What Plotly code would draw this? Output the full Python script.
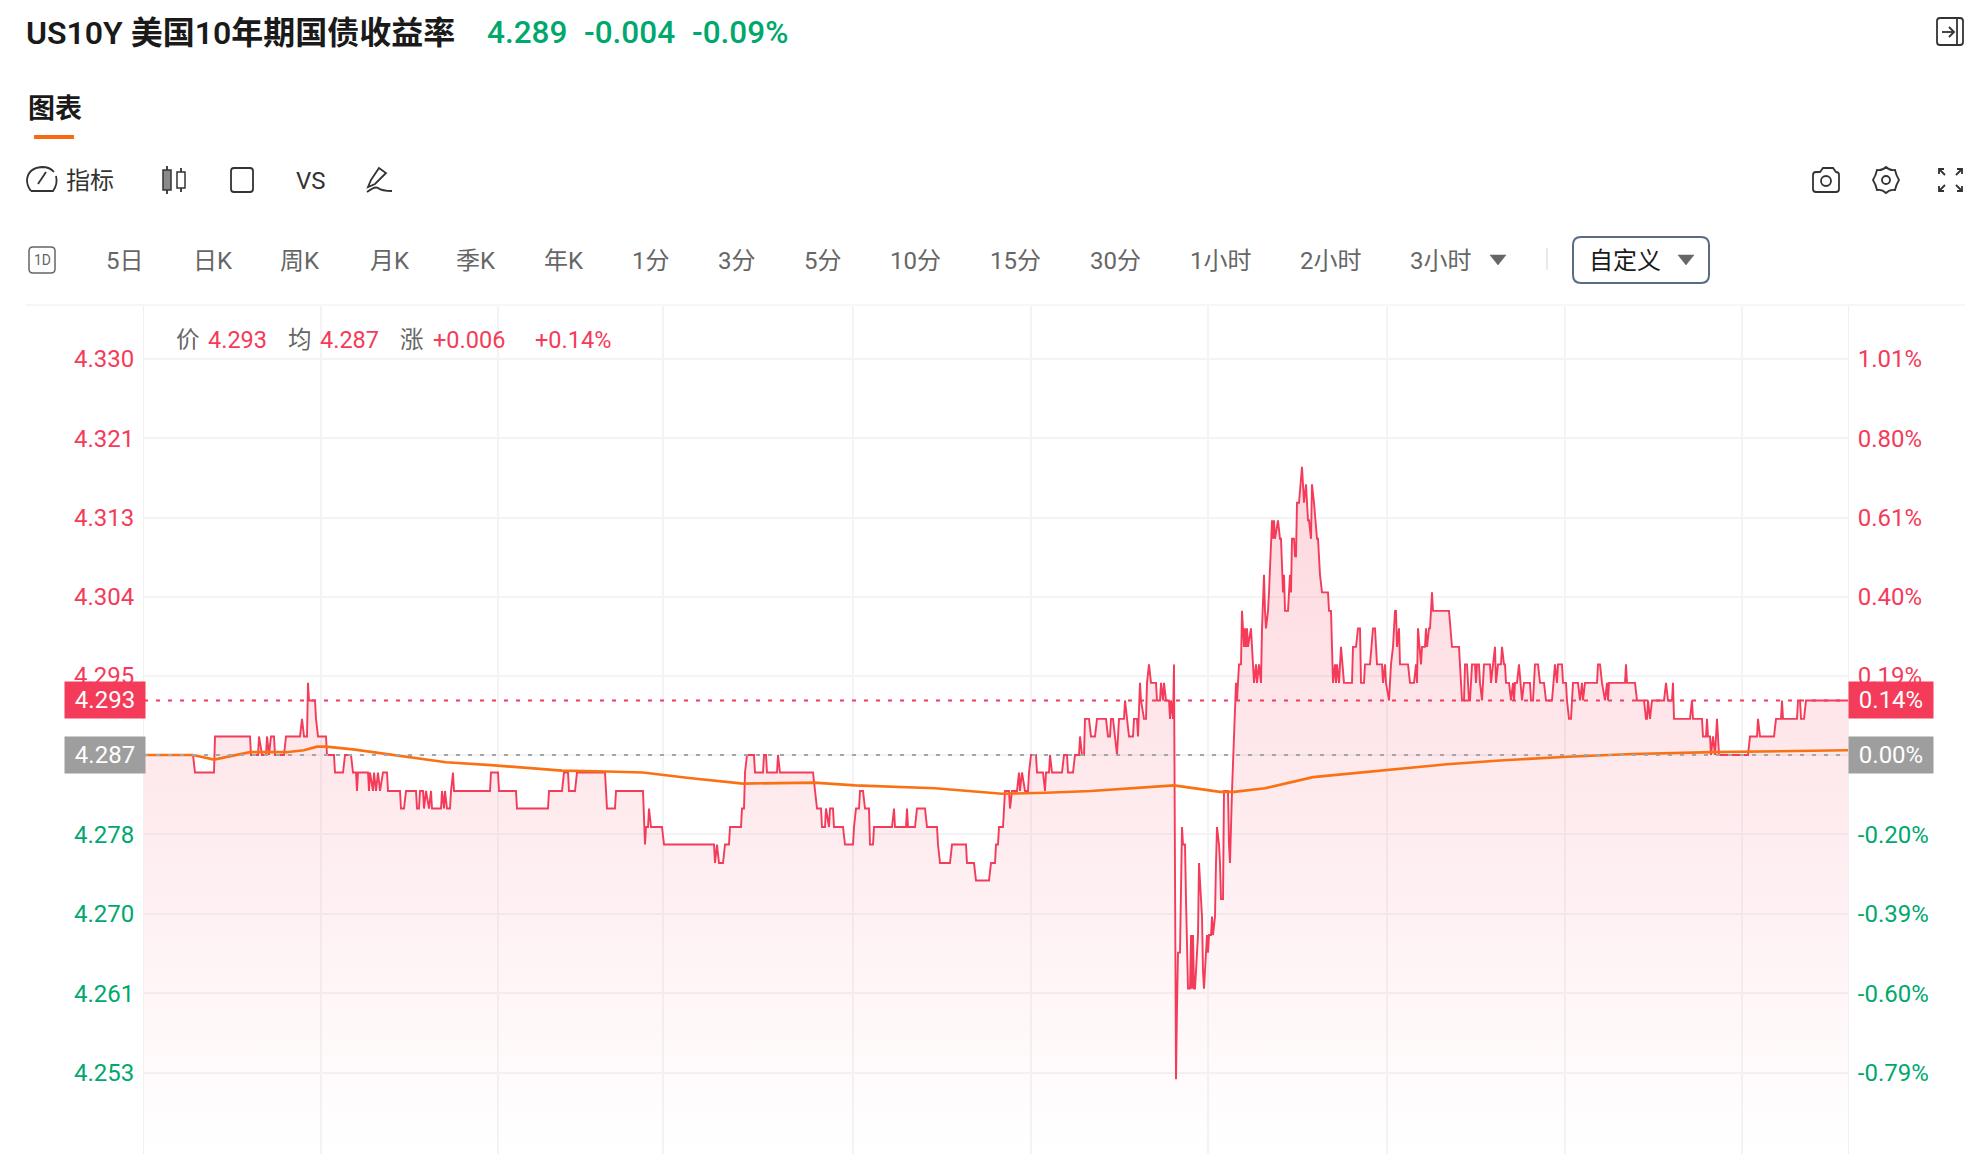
import plotly.graph_objects as go

# bar index along the session
bar_index = [
    0, 49, 51, 70, 71, 106, 107, 114, 115, 118, 122, 123,
    125, 127, 130, 131, 140, 142, 156, 158, 160, 163, 164, 165,
    171, 172, 174, 182, 183, 190, 191, 199, 201, 207, 209, 212,
    213, 214, 224, 225, 226, 229, 230, 232, 234, 236, 239, 243,
    244, 256, 257, 260, 262, 272, 273, 275, 276, 279, 280, 282,
    285, 287, 288, 297, 298, 300, 301, 303, 306, 307, 309, 310,
    346, 347, 354, 355, 372, 373, 404, 405, 418, 420, 424, 425,
    431, 433, 461, 463, 471, 472, 499, 501, 502, 504, 505, 507,
    518, 520, 570, 571, 573, 575, 579, 581, 585, 586, 597, 598,
    600, 601, 603, 610, 611, 619, 620, 622, 623, 633, 634, 636,
    669, 671, 673, 677, 678, 681, 682, 685, 686, 689, 690, 699,
    701, 709, 710, 712, 715, 716, 719, 721, 725, 726, 729, 730,
    748, 750, 751, 762, 763, 764, 771, 773, 781, 783, 793, 794,
    796, 806, 808, 822, 823, 830, 832, 845, 847, 851, 852, 854,
    855, 859, 860, 861, 865, 866, 868, 873, 875, 876, 878, 881,
    884, 885, 887, 892, 893, 899, 901, 902, 905, 906, 908, 918,
    920, 923, 924, 929, 931, 935, 936, 938, 940, 941, 945, 947,
    951, 953, 962, 964, 966, 967, 969, 971, 973, 975, 980, 981,
    983, 985, 989, 990, 993, 994, 996, 997, 1000, 1002, 1003, 1005,
    1007, 1012, 1013, 1016, 1017, 1019, 1020, 1022, 1025, 1026, 1027, 1029,
    1030, 1032, 1033, 1034, 1036, 1038, 1039, 1041, 1042, 1044, 1046, 1047,
    1048, 1049, 1050, 1051, 1052, 1054, 1055, 1057, 1058, 1059, 1060, 1062,
    1063, 1064, 1065, 1067, 1068, 1069, 1071, 1072, 1073, 1075, 1076, 1077,
    1079, 1080, 1084, 1085, 1086, 1088, 1089, 1090, 1092, 1093, 1095, 1097,
    1098, 1100, 1101, 1102, 1103, 1104, 1107, 1109, 1110, 1112, 1113, 1115,
    1117, 1118, 1120, 1121, 1122, 1124, 1125, 1128, 1129, 1130, 1131, 1134,
    1136, 1137, 1138, 1139, 1140, 1141, 1144, 1145, 1146, 1147, 1148, 1150,
    1151, 1152, 1153, 1155, 1158, 1160, 1162, 1164, 1165, 1167, 1168, 1170,
    1173, 1174, 1176, 1178, 1184, 1185, 1187, 1188, 1189, 1191, 1192, 1193,
    1195, 1197, 1200, 1208, 1209, 1212, 1214, 1216, 1217, 1220, 1221, 1226,
    1229, 1231, 1233, 1238, 1239, 1241, 1242, 1245, 1247, 1249, 1251, 1252,
    1253, 1255, 1256, 1264, 1266, 1270, 1272, 1273, 1274, 1277, 1278, 1281,
    1282, 1283, 1285, 1286, 1288, 1289, 1305, 1308, 1315, 1317, 1318, 1320,
    1321, 1323, 1325, 1326, 1328, 1331, 1332, 1333, 1335, 1336, 1338, 1340,
    1346, 1347, 1349, 1351, 1352, 1354, 1357, 1358, 1360, 1361, 1362, 1365,
    1367, 1369, 1370, 1371, 1373, 1375, 1378, 1380, 1386, 1387, 1389, 1391,
    1394, 1396, 1400, 1402, 1408, 1411, 1413, 1414, 1418, 1419, 1422, 1423,
    1425, 1427, 1429, 1434, 1436, 1438, 1439, 1441, 1453, 1454, 1456, 1458,
    1461, 1463, 1464, 1465, 1481, 1482, 1483, 1491, 1493, 1500, 1502, 1503,
    1504, 1506, 1508, 1520, 1522, 1524, 1528, 1529, 1530, 1546, 1548, 1549,
    1558, 1559, 1562, 1563, 1564, 1566, 1567, 1569, 1571, 1573, 1574, 1575,
    1604, 1606, 1613, 1614, 1616, 1630, 1632, 1637, 1638, 1639, 1653, 1654,
    1656, 1657, 1660, 1662, 1704,
]
price = [
    4.2868, 4.2868, 4.2849, 4.2849, 4.2888, 4.2888, 4.2868, 4.2868, 4.2888, 4.2868, 4.2868, 4.2888,
    4.2868, 4.2888, 4.2888, 4.2868, 4.2868, 4.2888, 4.2888, 4.2907, 4.2888, 4.2888, 4.2946, 4.2927,
    4.2927, 4.2907, 4.2888, 4.2888, 4.2868, 4.2868, 4.2849, 4.2849, 4.2868, 4.2868, 4.2849, 4.2849,
    4.2829, 4.2849, 4.2849, 4.2829, 4.2849, 4.2829, 4.2849, 4.2829, 4.2849, 4.2829, 4.2849, 4.2849,
    4.2829, 4.2829, 4.2810, 4.2810, 4.2829, 4.2829, 4.2810, 4.2810, 4.2829, 4.2829, 4.2810, 4.2829,
    4.2810, 4.2829, 4.2810, 4.2810, 4.2829, 4.2810, 4.2829, 4.2810, 4.2810, 4.2829, 4.2849, 4.2829,
    4.2829, 4.2849, 4.2849, 4.2829, 4.2829, 4.2810, 4.2810, 4.2829, 4.2829, 4.2849, 4.2849, 4.2829,
    4.2829, 4.2849, 4.2849, 4.2810, 4.2810, 4.2829, 4.2829, 4.2771, 4.2790, 4.2790, 4.2810, 4.2790,
    4.2790, 4.2771, 4.2771, 4.2751, 4.2771, 4.2751, 4.2751, 4.2771, 4.2771, 4.2790, 4.2790, 4.2810,
    4.2810, 4.2849, 4.2868, 4.2868, 4.2849, 4.2849, 4.2868, 4.2868, 4.2849, 4.2849, 4.2868, 4.2849,
    4.2849, 4.2829, 4.2810, 4.2810, 4.2790, 4.2790, 4.2810, 4.2790, 4.2810, 4.2810, 4.2790, 4.2790,
    4.2771, 4.2771, 4.2790, 4.2810, 4.2810, 4.2829, 4.2829, 4.2810, 4.2810, 4.2771, 4.2771, 4.2790,
    4.2790, 4.2810, 4.2790, 4.2790, 4.2810, 4.2790, 4.2790, 4.2810, 4.2810, 4.2790, 4.2790, 4.2771,
    4.2751, 4.2751, 4.2771, 4.2771, 4.2751, 4.2751, 4.2732, 4.2732, 4.2751, 4.2751, 4.2771, 4.2771,
    4.2790, 4.2790, 4.2810, 4.2829, 4.2829, 4.2810, 4.2829, 4.2829, 4.2849, 4.2829, 4.2849, 4.2829,
    4.2829, 4.2849, 4.2868, 4.2868, 4.2849, 4.2849, 4.2829, 4.2849, 4.2849, 4.2868, 4.2849, 4.2849,
    4.2868, 4.2868, 4.2849, 4.2849, 4.2868, 4.2868, 4.2888, 4.2868, 4.2868, 4.2907, 4.2907, 4.2888,
    4.2888, 4.2907, 4.2907, 4.2888, 4.2888, 4.2907, 4.2907, 4.2888, 4.2868, 4.2907, 4.2907, 4.2927,
    4.2907, 4.2888, 4.2888, 4.2907, 4.2907, 4.2888, 4.2946, 4.2927, 4.2907, 4.2907, 4.2946, 4.2966,
    4.2946, 4.2946, 4.2927, 4.2927, 4.2946, 4.2927, 4.2946, 4.2927, 4.2927, 4.2907, 4.2927, 4.2907,
    4.2966, 4.2517, 4.2595, 4.2654, 4.2654, 4.2790, 4.2771, 4.2771, 4.2712, 4.2615, 4.2615, 4.2673,
    4.2615, 4.2673, 4.2615, 4.2615, 4.2634, 4.2673, 4.2751, 4.2712, 4.2693, 4.2634, 4.2615, 4.2654,
    4.2673, 4.2654, 4.2673, 4.2673, 4.2693, 4.2673, 4.2693, 4.2751, 4.2790, 4.2771, 4.2751, 4.2712,
    4.2712, 4.2829, 4.2829, 4.2771, 4.2751, 4.2829, 4.2868, 4.2888, 4.2946, 4.2927, 4.2966, 4.2966,
    4.3024, 4.2985, 4.3005, 4.2985, 4.3005, 4.2985, 4.3005, 4.2966, 4.2946, 4.2966, 4.2946, 4.2966,
    4.2946, 4.3005, 4.3063, 4.3024, 4.3005, 4.3024, 4.3044, 4.3122, 4.3102, 4.3122, 4.3102, 4.3122,
    4.3102, 4.3102, 4.3063, 4.3044, 4.3063, 4.3024, 4.3024, 4.3044, 4.3063, 4.3044, 4.3102, 4.3102,
    4.3083, 4.3083, 4.3141, 4.3141, 4.3180, 4.3141, 4.3161, 4.3122, 4.3122, 4.3102, 4.3161, 4.3141,
    4.3102, 4.3102, 4.3063, 4.3044, 4.3044, 4.3024, 4.3024, 4.2985, 4.2946, 4.2966, 4.2946, 4.2966,
    4.2946, 4.2985, 4.2946, 4.2946, 4.2985, 4.2985, 4.3005, 4.3005, 4.2946, 4.2946, 4.2966, 4.2966,
    4.3005, 4.3005, 4.2966, 4.2966, 4.2946, 4.2966, 4.2946, 4.2927, 4.2966, 4.2985, 4.3024, 4.3024,
    4.2985, 4.3005, 4.2966, 4.2966, 4.2946, 4.2946, 4.2966, 4.2946, 4.3005, 4.2966, 4.2985, 4.2985,
    4.3005, 4.2985, 4.3005, 4.3005, 4.3044, 4.3024, 4.3024, 4.2985, 4.2985, 4.2946, 4.2927, 4.2927,
    4.2966, 4.2966, 4.2927, 4.2927, 4.2966, 4.2966, 4.2946, 4.2966, 4.2966, 4.2946, 4.2927, 4.2966,
    4.2966, 4.2946, 4.2966, 4.2985, 4.2946, 4.2966, 4.2966, 4.2985, 4.2966, 4.2966, 4.2946, 4.2946,
    4.2927, 4.2946, 4.2927, 4.2946, 4.2946, 4.2966, 4.2927, 4.2946, 4.2946, 4.2927, 4.2927, 4.2966,
    4.2966, 4.2946, 4.2946, 4.2927, 4.2927, 4.2966, 4.2946, 4.2966, 4.2966, 4.2946, 4.2946, 4.2927,
    4.2907, 4.2907, 4.2946, 4.2946, 4.2927, 4.2946, 4.2927, 4.2946, 4.2946, 4.2966, 4.2966, 4.2946,
    4.2927, 4.2946, 4.2927, 4.2946, 4.2946, 4.2966, 4.2946, 4.2946, 4.2927, 4.2927, 4.2907, 4.2907,
    4.2927, 4.2907, 4.2927, 4.2927, 4.2946, 4.2927, 4.2927, 4.2946, 4.2907, 4.2907, 4.2927, 4.2907,
    4.2907, 4.2888, 4.2888, 4.2907, 4.2888, 4.2888, 4.2868, 4.2888, 4.2868, 4.2907, 4.2888, 4.2868,
    4.2868, 4.2888, 4.2888, 4.2907, 4.2888, 4.2888, 4.2907, 4.2907, 4.2927, 4.2907, 4.2907, 4.2927,
    4.2927, 4.2907, 4.2907, 4.2927, 4.2927,
]

avg_index = [0, 49, 70, 106, 142, 160, 173, 182, 209, 258, 302, 347, 383, 418, 463, 499, 545, 586, 599,
             670, 711, 791, 858, 902, 947, 1030, 1076, 1090, 1121, 1169, 1189, 1243, 1303, 1356, 1423,
             1489, 1569, 1704]
avg_price = [4.2868, 4.2868, 4.2863, 4.2871, 4.2871, 4.2873, 4.2877, 4.2877, 4.2874, 4.2867, 4.2860, 4.2857,
             4.2854, 4.2851, 4.2850, 4.2849, 4.2843, 4.2838, 4.2837, 4.2838, 4.2835, 4.2832, 4.2826, 4.2827,
             4.2829, 4.2835, 4.2828, 4.2828, 4.2832, 4.2844, 4.2846, 4.2852, 4.2858, 4.2862, 4.2866, 4.2869,
             4.2871, 4.2873]

prev_close = 4.2868
last_price = 4.2927
tick_vals = [4.3297, 4.3211, 4.3125, 4.3039, 4.2954, 4.2868, 4.2782, 4.2696, 4.2610, 4.2524]
price_labels = ["4.330", "4.321", "4.313", "4.304", "4.295", "4.287", "4.278", "4.270", "4.261", "4.253"]
pct_labels = ["1.01%", "0.80%", "0.61%", "0.40%", "0.19%", "0.00%", "-0.20%", "-0.39%", "-0.60%", "-0.79%"]
time_grid = [177, 354, 519, 709, 887, 1064, 1243, 1421, 1598]
tab_labels = ["5日", "日K", "周K", "月K", "季K", "年K", "1分", "3分", "5分", "10分", "15分", "30分", "1小时", "2小时", "3小时"]
tab_left = [105, 192, 279, 369, 455, 543, 631, 717, 803, 889, 989, 1089, 1189, 1299, 1409]

RED = "#f43b5a"
GREEN = "#00a86e"
ORANGE = "#fa7114"
GRAY = "#9e9e9e"
TAB = "#666666"
ICON = "#333333"
GRID = "#f4f4f5"
FONT = "Roboto, 'Noto Sans CJK SC', sans-serif"
W = 1988
H = 1154


def tick_color(label):
    if label in ("4.287", "0.00%"):
        return "#999999"
    if label.startswith("-") or label in price_labels[6:]:
        return GREEN
    return RED


def colored(labels):
    return ['<span style="color:%s">%s</span>' % (tick_color(l), l) for l in labels]


def label(text, x, y, size, color, anchor="left", weight=None):
    font = dict(family=FONT, size=size, color=color)
    if weight:
        font["weight"] = weight
    return dict(text=text, x=x / W, y=1 - y / H, xref="paper", yref="paper", xanchor=anchor, yanchor="middle",
                showarrow=False, font=font, borderpad=0)


def badge(text, x, value, color):
    return dict(text=text, x=x / W, y=value, xref="paper", yref="y", xanchor="left", yanchor="middle",
                showarrow=False, width=84 if x > 1000 else 80, height=36, bgcolor=color, align="center",
                font=dict(family=FONT, size=24, color="white"), borderpad=0)


# icons are written in page pixels, this turns them into paper coords
def page_path(d):
    out = []
    is_x = True
    for tok in d.split():
        if tok.isalpha():
            out.append(tok)
        elif is_x:
            out.append("%.5f" % (float(tok) / W))
            is_x = False
        else:
            out.append("%.5f" % (1 - float(tok) / H))
            is_x = True
    return " ".join(out)


def icon(d, color=ICON, width=1.8, fill=None):
    s = dict(type="path", path=page_path(d), xref="paper", yref="paper", line=dict(color=color, width=width))
    if fill:
        s["fillcolor"] = fill
    return s


def round_box(x0, y0, x1, y1, r, color=ICON, width=1.8):
    d = "M %g %g L %g %g Q %g %g %g %g L %g %g Q %g %g %g %g L %g %g Q %g %g %g %g L %g %g Q %g %g %g %g Z" % (
        x0 + r, y0, x1 - r, y0, x1, y0, x1, y0 + r, x1, y1 - r, x1, y1, x1 - r, y1,
        x0 + r, y1, x0, y1, x0, y1 - r, x0, y0 + r, x0, y0, x0 + r, y0)
    return icon(d, color, width)


def ring(cx, cy, r, color=ICON):
    return dict(type="circle", xref="paper", yref="paper", x0=(cx - r) / W, x1=(cx + r) / W,
                y0=1 - (cy + r) / H, y1=1 - (cy - r) / H, line=dict(color=color, width=1.8))


fig = go.Figure()

fig.add_trace(go.Scatter(
    x=bar_index, y=price, mode="lines", fill="tozeroy",
    line=dict(color=RED, width=1.9),
    fillgradient=dict(type="vertical", start=4.2436, stop=4.3180,
                      colorscale=[[0, "rgba(244,59,90,0.0)"], [1, "rgba(244,59,90,0.2)"]]),
))
fig.add_trace(go.Scatter(x=[0, 1704], y=[last_price, last_price], mode="lines",
                         line=dict(color=RED, width=2, dash="4px,8px")))
fig.add_trace(go.Scatter(x=[0, 1704], y=[prev_close, prev_close], mode="lines", yaxis="y2",
                         line=dict(color="#a6a6a6", width=2, dash="4px,8px")))
fig.add_trace(go.Scatter(x=avg_index, y=avg_price, mode="lines", line=dict(color=ORANGE, width=2.6)))

axis_range = [4.2436, 4.3354]
fig.update_layout(
    width=W, height=H, showlegend=False, paper_bgcolor="white", plot_bgcolor="white",
    margin=dict(l=0, r=0, t=0, b=0), font=dict(family=FONT),
    xaxis=dict(domain=[144 / W, 1848 / W], range=[0, 1704], tickvals=time_grid, showticklabels=False,
               showgrid=True, gridcolor=GRID, gridwidth=2, zeroline=False, ticks=""),
    yaxis=dict(domain=[0, 848 / H], range=axis_range, tickmode="array", tickvals=tick_vals,
               ticktext=colored(price_labels), tickfont=dict(family=FONT, size=24), showgrid=True,
               gridcolor=GRID, gridwidth=2, zeroline=False, showline=True, linecolor="#f0f0f0", linewidth=1,
               ticks="outside", ticklen=4, tickcolor="rgba(0,0,0,0)"),
    yaxis2=dict(domain=[0, 848 / H], range=axis_range, overlaying="y", side="right", tickmode="array",
                tickvals=tick_vals, ticktext=colored(pct_labels), tickfont=dict(family=FONT, size=24),
                showgrid=False, zeroline=False, showline=True, linecolor="#f0f0f0", linewidth=1,
                ticks="outside", ticklen=4, tickcolor="rgba(0,0,0,0)"),
)

notes = [
    label("US10Y 美国10年期国债收益率", 25, 33, 32, "#1a1a1a", weight=600),
    label("4.289", 486, 33, 31.5, GREEN, weight=500),
    label("-0.004", 583, 33, 31.5, GREEN, weight=500),
    label("-0.09%", 691, 33, 31.5, GREEN, weight=500),
    label("图表", 27, 109, 27, "#1a1a1a", weight=600),
    label("指标", 65, 181, 24, ICON),
    label("VS", 295, 181, 24, ICON),
    label("1D", 42, 260, 14, TAB, anchor="center"),
    label("自定义", 1588, 261, 24, "#1a1a1a"),
    label("价", 175, 340, 23.5, TAB),
    label("4.293", 207, 340, 23.5, RED),
    label("均", 287, 340, 23.5, TAB),
    label("4.287", 319, 340, 23.5, RED),
    label("涨", 399, 340, 23.5, TAB),
    label("+0.006", 432, 340, 23.5, RED),
    label("+0.14%", 534, 340, 23.5, RED),
    badge("4.293", 64, last_price, RED),
    badge("4.287", 64, prev_close, GRAY),
    badge("0.14%", 1848, last_price, RED),
    badge("0.00%", 1848, prev_close, GRAY),
]
for text, x in zip(tab_labels, tab_left):
    notes.append(label(text, x, 261, 24, TAB))

shapes = [
    # tab underline, separators and the active range box
    dict(type="rect", xref="paper", yref="paper", x0=34 / W, x1=74 / W, y0=1 - 139 / H, y1=1 - 135 / H,
         fillcolor="#f96a10", line=dict(width=0)),
    dict(type="line", xref="paper", yref="paper", x0=26 / W, x1=1965 / W, y0=1 - 305 / H, y1=1 - 305 / H,
         line=dict(color="#eeeeee", width=1)),
    dict(type="line", xref="paper", yref="paper", x0=1547 / W, x1=1547 / W, y0=1 - 248 / H, y1=1 - 270 / H,
         line=dict(color="#e2e2e2", width=1.5)),
    round_box(1573, 237, 1709, 283, 8, "#5a6b85", 2),
    round_box(29, 247, 55, 273, 4, TAB, 1.5),
    # dropdown arrows
    icon("M 1490 255 L 1506 255 L 1498 265 Z", TAB, 0.5, TAB),
    icon("M 1678 255 L 1694 255 L 1686 265 Z", TAB, 0.5, TAB),
    # gauge
    icon("M 31 191 Q 27 186 27 180 Q 28 168 42 167 Q 50 167 54 172"),
    icon("M 56 176 Q 58 184 53 191 L 31 191"),
    icon("M 38 184 L 46 172"),
    # candles
    icon("M 163 170 L 171 170 L 171 190 L 163 190 Z", ICON, 1.5, "#8a8a8a"),
    icon("M 167 166 L 167 170"), icon("M 167 190 L 167 194"),
    icon("M 177 172 L 185 172 L 185 188 L 177 188 Z", ICON, 1.5),
    icon("M 181 168 L 181 172"), icon("M 181 188 L 181 192"),
    round_box(231, 168, 253, 192, 3),
    # pen
    icon("M 379 168 L 371 180 L 368 187 L 375 184 L 386 173 Z"),
    icon("M 367 192 Q 375 186 378 188 Q 382 191 392 191"),
    # collapse panel
    round_box(1937, 18, 1963, 45, 3),
    icon("M 1957 18 L 1957 45"),
    icon("M 1942 32 L 1953 32"), icon("M 1949 27 L 1954 32 L 1949 37"),
    # camera
    icon("M 1816 172 L 1820 172 L 1823 168 L 1833 168 L 1836 172 Q 1839 172 1839 175 L 1839 189 "
         "Q 1839 192 1836 192 L 1816 192 Q 1813 192 1813 189 L 1813 175 Q 1813 172 1816 172 Z"),
    ring(1826, 181, 5),
    # gear
    icon("M 1886 167 Q 1890 171 1895 170 Q 1896 175 1899 180 Q 1896 185 1895 190 Q 1890 189 1886 193 "
         "Q 1882 189 1877 190 Q 1876 185 1873 180 Q 1876 175 1877 170 Q 1882 171 1886 167 Z"),
    ring(1886, 180, 4),
    # fullscreen
    icon("M 1939 174 L 1939 169 L 1944 169"), icon("M 1939 169 L 1945 175"),
    icon("M 1957 169 L 1962 169 L 1962 174"), icon("M 1962 169 L 1956 175"),
    icon("M 1939 186 L 1939 191 L 1944 191"), icon("M 1939 191 L 1945 185"),
    icon("M 1957 191 L 1962 191 L 1962 186"), icon("M 1962 191 L 1956 185"),
]
fig.update_layout(annotations=notes, shapes=shapes)

fig.write_html("out.html", config=dict(displayModeBar=False), post_script="document.body.style.margin='0';")
